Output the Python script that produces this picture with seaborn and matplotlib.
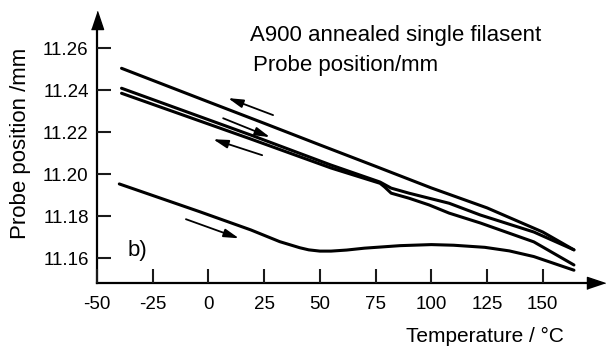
#importing the necessary libraries
import numpy as np
import pandas as pd
import matplotlib
matplotlib.use("Agg")
import matplotlib.pyplot as plt
import seaborn as sns

#probe position (mm) against temperature (degC)
temp_a = [-39, 0, 25, 50, 75, 100, 125, 150, 164]
pos_a = [11.2505, 11.2345, 11.2243, 11.2140, 11.2038, 11.1935, 11.1840, 11.1725, 11.1640]

temp_b = [-39, 19, 55, 77, 82, 90, 99, 108, 122, 146, 164]
pos_b = [11.2410, 11.2187, 11.2044, 11.1963, 11.1934, 11.1910, 11.1886, 11.1862,
         11.1806, 11.1725, 11.1640]

temp_c = [-39, 19, 55, 77, 79, 82, 90, 99, 108, 122, 146, 164]
pos_c = [11.2386, 11.2168, 11.2030, 11.1957, 11.1940, 11.1910, 11.1886, 11.1854,
         11.1815, 11.1768, 11.1678, 11.1568]

temp_d = [-40, -4, 19, 32, 41, 45, 50, 55, 62, 70, 86, 100, 110, 124, 135, 146, 164]
pos_d = [11.1954, 11.1822, 11.1735, 11.1679, 11.1650, 11.1640, 11.1634, 11.1634,
         11.1639, 11.1648, 11.1660, 11.1665, 11.1662, 11.1652, 11.1635, 11.1608, 11.1543]

#direction arrows (tail -> head), temperature / position
arrow_tails = [(29.0, 11.2282), (6.6, 11.2267), (24.1, 11.2091), (-10.1, 11.1786)]
arrow_heads = [(8.8, 11.2363), (27.6, 11.2177), (2.1, 11.2167), (13.7, 11.1695)]

x_ticks = [-50, -25, 0, 25, 50, 75, 100, 125, 150]
y_ticks = [11.16, 11.18, 11.20, 11.22, 11.24, 11.26]

#one long table for seaborn
curves = []
for name, t, p in [("a", temp_a, pos_a), ("b", temp_b, pos_b),
                   ("c", temp_c, pos_c), ("d", temp_d, pos_d)]:
    curves.append(pd.DataFrame({"run": name, "temp": t, "pos": p}))
curves = pd.concat(curves, ignore_index=True)

sns.set_style("ticks")
plt.rcParams["font.family"] = ["Liberation Sans", "DejaVu Sans"]
plt.rcParams["axes.unicode_minus"] = False
plt.rcParams["text.color"] = "black"
plt.rcParams["axes.labelcolor"] = "black"
plt.rcParams["xtick.color"] = "black"
plt.rcParams["ytick.color"] = "black"
plt.rcParams["axes.edgecolor"] = "black"
plt.rcParams["axes.axisbelow"] = False

fig = plt.figure(figsize=(6.06, 3.5), dpi=100)
ax = fig.add_axes([0.1601, 0.1914, 0.8234, 0.7514])

sns.lineplot(data=curves, x="temp", y="pos", units="run", estimator=None, sort=False,
             color="black", linewidth=2.2, ax=ax)

for tail, head in zip(arrow_tails, arrow_heads):
    ax.annotate("", xy=head, xytext=tail,
                arrowprops=dict(arrowstyle="-|>,head_length=0.9,head_width=0.25",
                                color="black", lw=1.3, shrinkA=0, shrinkB=0))

ax.set_xlim(-50, 173.9)
ax.set_ylim(11.1482, 11.2735)
ax.set_xticks(x_ticks)
ax.set_yticks(y_ticks)
ax.set_yticklabels(["%.2f" % v for v in y_ticks])

sns.despine(ax=ax)
for s in ["left", "bottom"]:
    ax.spines[s].set_linewidth(1.6)

ax.tick_params(which="major", direction="in", length=10, width=1.5, labelsize=13.5,
               color="#1a1a1a")
ax.tick_params(axis="y", pad=6)
ax.tick_params(axis="x", pad=9)
for tl in ax.get_xticklines() + ax.get_yticklines():
    tl.set_zorder(5)

#arrow heads on the axes
ax.plot(1, 0, marker=[(-1, -0.67), (-1, 0.67), (1, 0)], markersize=13, color="black",
        transform=ax.transAxes, clip_on=False)
ax.plot(0, 1, marker=[(-0.67, -1), (0.67, -1), (0, 1)], markersize=13, color="black",
        transform=ax.transAxes, clip_on=False)

ax.set_xlabel("Temperature / °C", fontsize=15, ha="right", va="center")
ax.xaxis.set_label_coords(0.935, -0.205)
ax.set_ylabel("Probe position /mm", fontsize=16, va="center")
ax.yaxis.set_label_coords(-0.153, 0.53)

ax.text(18.7, 11.2663, "A900 annealed single filasent", fontsize=16, va="center", ha="left")
ax.text(20, 11.2520, "Probe position/mm", fontsize=16, va="center", ha="left")
ax.text(-32, 11.1635, "b)", fontsize=16, va="center", ha="center")

plt.savefig("out.png", dpi=100)
